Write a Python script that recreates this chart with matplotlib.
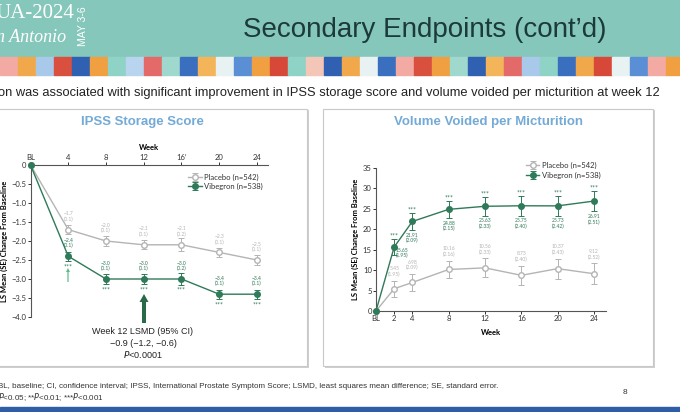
import numpy as np
import matplotlib
matplotlib.use('Agg')
import matplotlib.pyplot as plt
from matplotlib.patches import Rectangle, FancyArrow

# ---- data ----
ipss_weeks = [0, 4, 8, 12, 16, 20, 24]
ipss_ticklabels = ['BL', '4', '8', '12', '16\u2019', '20', '24']
ipss_placebo = [0, -1.7, -2.0, -2.1, -2.1, -2.3, -2.5]
ipss_placebo_se = ['', '0.1', '0.1', '0.1', '0.2', '0.1', '0.1']
ipss_placebo_err = [0, 0.12, 0.12, 0.12, 0.17, 0.12, 0.12]
ipss_vibegron = [0, -2.4, -3.0, -3.0, -3.0, -3.4, -3.4]
ipss_vibegron_se = ['', '0.1', '0.1', '0.1', '0.2', '0.1', '0.1']
ipss_vibegron_err = [0, 0.12, 0.12, 0.12, 0.17, 0.12, 0.12]
ipss_yticks = [0, -0.5, -1.0, -1.5, -2.0, -2.5, -3.0, -3.5, -4.0]

vv_weeks = [0, 2, 4, 8, 12, 16, 20, 24]
vv_ticklabels = ['BL', '2', '4', '8', '12', '16', '20', '24']
vv_placebo = [0, 5.45, 6.98, 10.16, 10.56, 8.73, 10.37, 9.12]
vv_placebo_se = [0, 1.95, 2.09, 2.16, 2.33, 2.40, 2.43, 2.52]
vv_vibegron = [0, 15.65, 21.91, 24.88, 25.63, 25.75, 25.73, 26.91]
vv_vibegron_se = [0, 1.95, 2.09, 2.15, 2.33, 2.40, 2.42, 2.51]

GREEN = '#2f7a58'
GRAY = '#b4b4b4'
TITLE_BLUE = '#74aad6'
TEAL = '#86c7bb'
W, H = 680, 412

plt.rcParams['font.family'] = ['Lato', 'DejaVu Sans']


def fx(px):
    return px / W


def fy(py):
    return 1 - py / H


def bg_rect(x, y, w, h, **kw):
    # background shapes sit under the axes
    fig.patches.append(Rectangle((x, y), w, h, transform=fig.transFigure,
                                 zorder=-5, **kw))


fig = plt.figure(figsize=(6.8, 4.12), dpi=100)
fig.patch.set_facecolor('white')

# ---- header ----
bg_rect(0, fy(57), 1, 57 / H, color=TEAL)
strip_colors = ['#f2aaa2', '#f0a84a', '#a9c9ea', '#d9503f', '#2f60b2', '#f0a040',
                '#8fd2c6', '#b8d4ee', '#e46a6a', '#9fd8cc', '#3a6fc0', '#f3b45a',
                '#e9f2f2', '#5a8fd6', '#f0a040', '#d84838', '#8fd2c6', '#f4c6b8',
                '#2f60b2', '#f0a84a', '#e9f2f2', '#3a6fc0', '#f2aaa2', '#d9503f',
                '#f0a040', '#9fd8cc', '#2f60b2', '#f3b45a', '#e46a6a', '#a9c9ea',
                '#8fd2c6', '#3a6fc0', '#f0a84a', '#d84838', '#e9f2f2', '#5a8fd6',
                '#f2aaa2', '#f0a040']
tile = 18
for i, c in enumerate(strip_colors):
    bg_rect(fx(i * tile), fy(75), tile / W, 18 / H, color=c)
fig.text(fx(-4), fy(14), 'UA-2024', color='white', fontsize=15,
         family='Liberation Serif', va='center', ha='left')
fig.text(fx(-4), fy(38), 'n Antonio', color='white', fontsize=13, style='italic',
         family='Liberation Serif', va='center', ha='left')
fig.text(fx(83), fy(26), 'MAY 3-6', color='white', fontsize=7.5, rotation=90,
         family='Liberation Sans', va='center', ha='center')
fig.text(fx(425), fy(30), 'Secondary Endpoints (cont\u2019d)', color='#1d3a3a',
         fontsize=20, family='Liberation Sans', va='center', ha='center')
fig.text(fx(-2), fy(93), 'on was associated with significant improvement in IPSS storage '
         'score and volume voided per micturition at week 12', color='#222222',
         fontsize=9.3, family='Liberation Sans', va='center', ha='left')

# ---- panel boxes ----
for x0, x1 in [(-5, 307), (323, 653)]:
    bg_rect(fx(x0 + 2), fy(368), (x1 - x0) / W, 258 / H, facecolor='#cfcfcf',
            edgecolor='none')
    bg_rect(fx(x0), fy(366), (x1 - x0) / W, 257 / H, facecolor='white',
            edgecolor='#c8c8c8', lw=0.8)

fig.text(fx(142), fy(122), 'IPSS Storage Score', color=TITLE_BLUE, fontsize=9.5,
         weight='bold', family='Liberation Sans', ha='center', va='center')
fig.text(fx(488), fy(122), 'Volume Voided per Micturition', color=TITLE_BLUE,
         fontsize=9.5, weight='bold', family='Liberation Sans', ha='center', va='center')

# ---- left chart: IPSS storage score ----
px_per_wk = (257 - 30.5) / 24
ax1 = fig.add_axes([fx(30.5), fy(317), 25.2 * px_per_wk / W, (317 - 165) / H])
ax1.set_xlim(0, 25.2)
ax1.set_ylim(-4.0, 0)
ax1.errorbar(ipss_weeks, ipss_placebo, yerr=ipss_placebo_err, color=GRAY, lw=1,
             marker='o', ms=4, mfc='white', mec=GRAY, capsize=2, elinewidth=0.7,
             capthick=0.7, clip_on=False, zorder=3, label='Placebo (n=542)')
ax1.errorbar(ipss_weeks, ipss_vibegron, yerr=ipss_vibegron_err, color=GREEN, lw=1,
             marker='o', ms=4, mfc=GREEN, mec=GREEN, capsize=2, elinewidth=0.7,
             capthick=0.7, clip_on=False, zorder=4, label='Vibegron (n=538)')
for i in range(1, len(ipss_weeks)):
    ax1.annotate('\u2212%.1f\n(%s)' % (-ipss_placebo[i], ipss_placebo_se[i]),
                 (ipss_weeks[i], ipss_placebo[i]), xytext=(0, 13),
                 textcoords='offset pixels', ha='center', va='center',
                 fontsize=3.6, color=GRAY, linespacing=1.1)
    ax1.annotate('\u2212%.1f\n(%s)' % (-ipss_vibegron[i], ipss_vibegron_se[i]),
                 (ipss_weeks[i], ipss_vibegron[i]), xytext=(0, 13),
                 textcoords='offset pixels', ha='center', va='center',
                 fontsize=3.6, color=GREEN, linespacing=1.1)
    ax1.annotate('***', (ipss_weeks[i], ipss_vibegron[i]), xytext=(0, -11),
                 textcoords='offset pixels', ha='center', va='center',
                 fontsize=5, color=GREEN)
ax1.xaxis.tick_top()
ax1.xaxis.set_label_position('top')
ax1.set_xticks(ipss_weeks)
ax1.set_xticklabels(ipss_ticklabels)
ax1.set_yticks(ipss_yticks)
ax1.set_yticklabels(['0'] + ['\u2212%.1f' % -v for v in ipss_yticks[1:]])
ax1.set_xlabel('Week', fontsize=5.5, weight='bold', labelpad=3)
ax1.set_ylabel('LS Mean (SE) Change From Baseline', fontsize=5.5, weight='bold',
               labelpad=2)
ax1.tick_params(labelsize=5.5, length=2, width=0.7, colors='#333333', pad=1)
for s in ['right', 'bottom']:
    ax1.spines[s].set_visible(False)
for s in ['left', 'top']:
    ax1.spines[s].set_color('#555555')
    ax1.spines[s].set_linewidth(0.8)
ax1.patch.set_alpha(0)
leg = ax1.legend(loc='upper right', bbox_to_anchor=(1.0, 0.98), fontsize=5.5,
                 frameon=False, handlelength=1.8, borderpad=0.2, labelspacing=0.3,
                 handletextpad=0.3)
for t in leg.get_texts():
    t.set_color('#333333')

# arrows and LSMD note
fig.patches.append(FancyArrow(fx(68), fy(282), 0, 10 / H, width=1.2 / W,
                              head_width=4 / W, head_length=4 / H,
                              transform=fig.transFigure, color='#5cbb8c', lw=0))
fig.patches.append(FancyArrow(fx(144), fy(323), 0, 21 / H, width=4 / W,
                              head_width=9 / W, head_length=8 / H,
                              transform=fig.transFigure, color='#2a6b47', lw=0))
fig.text(fx(143), fy(332), 'Week 12 LSMD (95% CI)', fontsize=6.5,
         family='Liberation Sans', color='#222222', ha='center', va='center')
fig.text(fx(143), fy(343), '\u22120.9 (\u22121.2, \u22120.6)', fontsize=6.5,
         family='Liberation Sans', color='#222222', ha='center', va='center')
fig.text(fx(143), fy(355), '$P$<0.0001', fontsize=6.5, family='Liberation Sans',
         color='#222222', ha='center', va='center')

# ---- right chart: volume voided ----
vv_px_wk = (594 - 376) / 24
ax2 = fig.add_axes([fx(376), fy(311), 25.3 * vv_px_wk / W, (311 - 168) / H])
ax2.set_xlim(0, 25.3)
ax2.set_ylim(0, 35)
ax2.errorbar(vv_weeks, vv_placebo, yerr=vv_placebo_se, color=GRAY, lw=1,
             marker='o', ms=4, mfc='white', mec=GRAY, capsize=2, elinewidth=0.7,
             capthick=0.7, clip_on=False, zorder=3, label='Placebo (n=542)')
ax2.errorbar(vv_weeks, vv_vibegron, yerr=vv_vibegron_se, color=GREEN, lw=1,
             marker='o', ms=4, mfc=GREEN, mec=GREEN, capsize=2, elinewidth=0.7,
             capthick=0.7, clip_on=False, zorder=4, label='Vibegron (n=538)')
for i in range(1, len(vv_weeks)):
    ax2.annotate('%.2f\n(%.2f)' % (vv_placebo[i], vv_placebo_se[i]),
                 (vv_weeks[i], vv_placebo[i] + vv_placebo_se[i]), xytext=(0, 9),
                 textcoords='offset pixels', ha='center', va='center',
                 fontsize=3.6, color=GRAY, linespacing=1.1)
    if i == 1:
        xy, off = (vv_weeks[i], vv_vibegron[i]), (8, -6)
    else:
        xy, off = (vv_weeks[i], vv_vibegron[i] - vv_vibegron_se[i]), (0, -8)
    ax2.annotate('%.2f\n(%.2f)' % (vv_vibegron[i], vv_vibegron_se[i]), xy,
                 xytext=off, textcoords='offset pixels', ha='center', va='center',
                 fontsize=3.6, color=GREEN, linespacing=1.1)
    ax2.annotate('***', (vv_weeks[i], vv_vibegron[i] + vv_vibegron_se[i]),
                 xytext=(0, 3), textcoords='offset pixels', ha='center',
                 va='center', fontsize=5, color=GREEN)
ax2.set_xticks(vv_weeks)
ax2.set_xticklabels(vv_ticklabels)
ax2.set_yticks(range(0, 36, 5))
ax2.set_xlabel('Week', fontsize=5.5, weight='bold', labelpad=5)
ax2.set_ylabel('LS Mean (SE) Change From Baseline', fontsize=5.5, weight='bold',
               labelpad=3)
ax2.tick_params(labelsize=5.5, length=2, width=0.7, colors='#333333', pad=1)
for s in ['right', 'top']:
    ax2.spines[s].set_visible(False)
for s in ['left', 'bottom']:
    ax2.spines[s].set_color('#555555')
    ax2.spines[s].set_linewidth(0.8)
ax2.patch.set_alpha(0)
leg2 = ax2.legend(loc='upper right', bbox_to_anchor=(1.0, 1.08), fontsize=5.5,
                  frameon=False, handlelength=1.8, borderpad=0.2, labelspacing=0.3,
                  handletextpad=0.3)
for t in leg2.get_texts():
    t.set_color('#333333')

# ---- footnotes ----
fig.text(fx(-2), fy(386), 'BL, baseline; CI, confidence interval; IPSS, International '
         'Prostate Symptom Score; LSMD, least squares mean difference; SE, standard error.',
         fontsize=5.8, family='Liberation Sans', color='#333333', va='center')
fig.text(fx(-2), fy(397), '$P$<0.05; **$P$<0.01; ***$P$<0.001', fontsize=5.8,
         family='Liberation Sans', color='#333333', va='center')
fig.text(fx(625), fy(392), '8', fontsize=6, family='Liberation Sans',
         color='#333333', va='center', ha='center')
bg_rect(0, 0, 1, 5 / H, color='#2f5ea6')

fig.savefig('out.png', dpi=100)
